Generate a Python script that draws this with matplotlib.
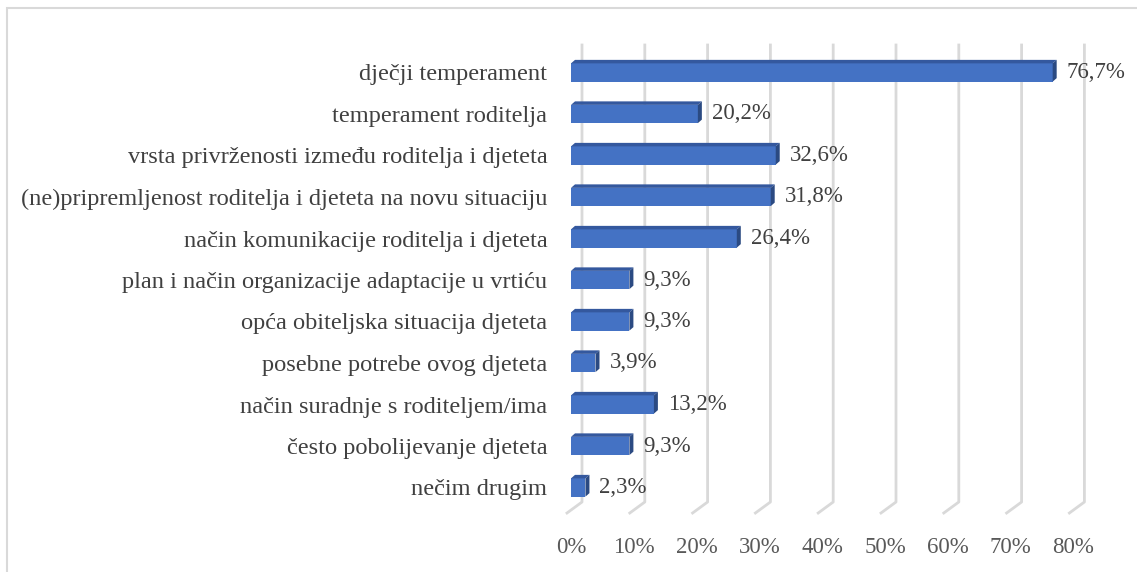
import matplotlib.pyplot as plt
from matplotlib.patches import Polygon, Rectangle

categories = [
    "dječji temperament",
    "temperament roditelja",
    "vrsta privrženosti između roditelja i djeteta",
    "(ne)pripremljenost roditelja i djeteta na novu situaciju",
    "način komunikacije roditelja i djeteta",
    "plan i način organizacije adaptacije u vrtiću",
    "opća obiteljska situacija djeteta",
    "posebne potrebe ovog djeteta",
    "način suradnje s roditeljem/ima",
    "često pobolijevanje djeteta",
    "nečim drugim",
]
values = [76.7, 20.2, 32.6, 31.8, 26.4, 9.3, 9.3, 3.9, 13.2, 9.3, 2.3]
ticks = [0, 10, 20, 30, 40, 50, 60, 70, 80]
tick_labels = [f"{t}%" for t in ticks]

W, H = 1137, 572
plt.rcParams['font.family'] = ['Liberation Serif', 'DejaVu Serif']

fig = plt.figure(figsize=(W / 100, H / 100), dpi=100)

# axes in pixel geometry: 0% at x=571, 80% at x=1073; category 0 centered at y=72.5, step 41.5
px_per_unit = 6.28
step = 41.5
x0 = 571
top_px, bot_px = 40, 513
ax = fig.add_axes([x0 / W, 1 - bot_px / H, 80 * px_per_unit / W, (bot_px - top_px) / H])
ax.set_xlim(0, 80)
ax.set_ylim((bot_px - 72.5) / step, (top_px - 72.5) / step)

# gridlines: back wall + diagonal floor edge
back_dx = 11 / px_per_unit
front_dx = -4 / px_per_unit
grid_top = (45 - 72.5) / step
floor_back = (502 - 72.5) / step
floor_front = (bot_px - 72.5) / step
for t in ticks:
    ax.plot([t + back_dx, t + back_dx, t + front_dx],
            [grid_top, floor_back, floor_front],
            color="#D9D9D9", lw=2, clip_on=False, zorder=1)

# 3D bars
bh = 0.44
ddx = 4 / px_per_unit
ddy = -3.5 / step
for i, v in enumerate(values):
    y_top = i - bh / 2
    y_bot = i + bh / 2
    ax.add_patch(Rectangle((0, y_top), v, bh, facecolor="#4472C4", edgecolor="none", zorder=3))
    ax.add_patch(Polygon([(0, y_top), (v, y_top), (v + ddx, y_top + ddy), (ddx, y_top + ddy)],
                         closed=True, facecolor="#34589E", edgecolor="none", zorder=3))
    ax.add_patch(Polygon([(v, y_top), (v + ddx, y_top + ddy), (v + ddx, y_bot + ddy), (v, y_bot)],
                         closed=True, facecolor="#2B4A82", edgecolor="none", zorder=3))
    ax.annotate(f"{v:.1f}%".replace(".", ","), xy=(v + ddx, i), xytext=(10, 0),
                textcoords="offset pixels", va="center", ha="left",
                fontsize=16.5, color="#404040", zorder=4)

ax.set_yticks(range(len(categories)))
ax.set_yticklabels(categories, fontsize=17.6, color="#404040")
ax.set_xticks(ticks)
ax.set_xticklabels(tick_labels, fontsize=16.5, color="#595959")
ax.tick_params(axis="y", length=0, pad=17)
ax.tick_params(axis="x", length=0, pad=17)
for s in ax.spines.values():
    s.set_visible(False)
ax.set_facecolor("none")

# chart border
fig.add_artist(Rectangle((7 / W, -0.05), 1.1, 1 - 8 / H + 0.05, transform=fig.transFigure,
                         fill=False, edgecolor="#D9D9D9", lw=1.5))

fig.savefig("out.png", dpi=100)
